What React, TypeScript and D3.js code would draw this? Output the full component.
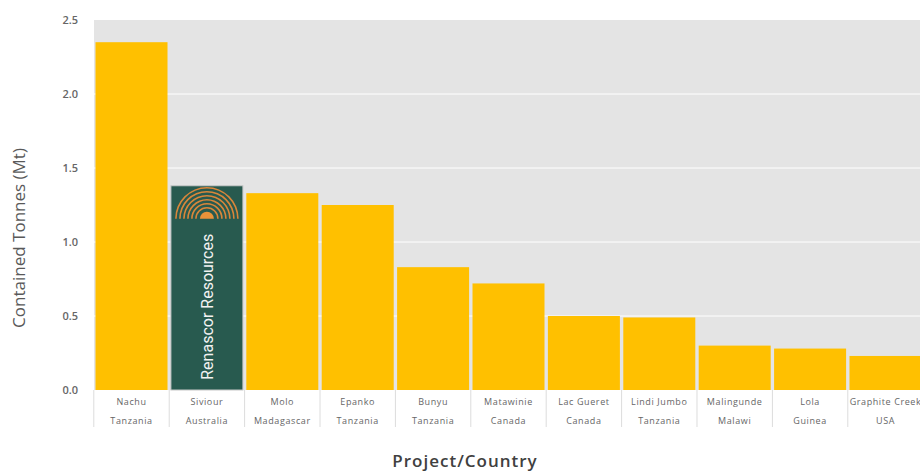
import React, { useEffect, useRef } from 'react';
import * as d3 from 'd3';

const projects = ['Nachu', 'Siviour', 'Molo', 'Epanko', 'Bunyu', 'Matawinie', 'Lac Gueret', 'Lindi Jumbo', 'Malingunde', 'Lola', 'Graphite Creek'];
const countries = ['Tanzania', 'Australia', 'Madagascar', 'Tanzania', 'Tanzania', 'Canada', 'Canada', 'Tanzania', 'Malawi', 'Guinea', 'USA'];
const tonnes = [2.35, 1.38, 1.33, 1.25, 0.83, 0.72, 0.5, 0.49, 0.3, 0.28, 0.23];
const yTicks = [0, 0.5, 1.0, 1.5, 2.0, 2.5];
const highlight = 'Siviour';

const App: React.FC = () => {
  const svgRef = useRef<SVGSVGElement>(null);

  useEffect(() => {
    if (!svgRef.current) return;
    const svg = d3.select(svgRef.current);
    svg.selectAll('*').remove();

    const width = 920;
    const height = 472;
    const margin = { top: 20, right: -3, bottom: 82, left: 94 };
    const innerW = width - margin.left - margin.right;
    const innerH = height - margin.top - margin.bottom;

    const x = d3.scaleBand<string>()
      .domain(projects)
      .range([0, innerW])
      .paddingInner(0.045)
      .paddingOuter(0.02);

    const y = d3.scaleLinear().domain([0, 2.5]).range([innerH, 0]);

    const g = svg.append('g').attr('transform', `translate(${margin.left},${margin.top})`);

    // plot background
    g.append('rect')
      .attr('width', innerW)
      .attr('height', innerH)
      .attr('fill', '#e4e4e4');

    // gridlines
    g.selectAll('.grid')
      .data(yTicks.slice(1, -1))
      .enter()
      .append('line')
      .attr('x1', 0)
      .attr('x2', innerW)
      .attr('y1', d => y(d))
      .attr('y2', d => y(d))
      .attr('stroke', '#ffffff')
      .attr('stroke-width', 1);

    // y tick labels
    g.selectAll('.ytick')
      .data(yTicks)
      .enter()
      .append('text')
      .attr('x', -16)
      .attr('y', d => y(d))
      .attr('dy', '0.35em')
      .attr('text-anchor', 'end')
      .style('font-family', 'Open Sans, sans-serif')
      .style('font-size', '11px')
      .style('font-weight', 600)
      .style('fill', '#666666')
      .text(d => d.toFixed(1));

    // bars
    g.selectAll('.bar')
      .data(projects)
      .enter()
      .append('rect')
      .attr('x', d => x(d)!)
      .attr('y', (d, i) => y(tonnes[i]))
      .attr('width', x.bandwidth())
      .attr('height', (d, i) => innerH - y(tonnes[i]))
      .attr('fill', d => d === highlight ? '#285a4f' : '#ffc000')
      .attr('stroke', d => d === highlight ? '#c8c8c8' : 'none')
      .attr('stroke-width', 1);

    // Renascor logo on highlighted bar
    const hi = projects.indexOf(highlight);
    const cx = x(highlight)! + x.bandwidth() / 2;
    const logoBase = y(tonnes[hi]) + 33;
    const arc = d3.arc<number>()
      .innerRadius(d => d - 0.8)
      .outerRadius(d => d + 0.8)
      .startAngle(-Math.PI / 2)
      .endAngle(Math.PI / 2);
    const logo = g.append('g').attr('transform', `translate(${cx},${logoBase})`);
    logo.selectAll('path.ring')
      .data([11, 15, 19, 23, 27, 31])
      .enter()
      .append('path')
      .attr('d', d => arc(d))
      .attr('fill', '#d9863a');
    logo.append('path')
      .attr('d', d3.arc()({ innerRadius: 0, outerRadius: 7, startAngle: -Math.PI / 2, endAngle: Math.PI / 2 }) as string)
      .attr('fill', '#e8923a');

    g.append('text')
      .attr('transform', `translate(${cx + 6},${y(tonnes[hi]) + 121}) rotate(-90)`)
      .attr('text-anchor', 'middle')
      .style('font-family', 'Liberation Sans Narrow, Roboto, sans-serif')
      .style('font-size', '16px')
      .style('fill', '#f2f2f2')
      .text('Renascor Resources');

    // category label area separators
    const boundaries = projects.map(p => x(p)! - (x.step() - x.bandwidth()) / 2);
    g.selectAll('.sep')
      .data(boundaries)
      .enter()
      .append('line')
      .attr('x1', d => d)
      .attr('x2', d => d)
      .attr('y1', innerH)
      .attr('y2', innerH + 37)
      .attr('stroke', '#dcdcdc')
      .attr('stroke-width', 1);

    const labelStyle = (sel: d3.Selection<SVGTextElement, string, SVGGElement, unknown>) =>
      sel.attr('text-anchor', 'middle')
        .style('font-family', 'Open Sans, sans-serif')
        .style('font-size', '9px')
        .style('letter-spacing', '0.6px')
        .style('fill', '#666666');

    g.selectAll('.proj')
      .data(projects)
      .enter()
      .append('text')
      .attr('x', d => x(d)! + x.bandwidth() / 2)
      .attr('y', innerH + 15)
      .call(labelStyle)
      .text(d => d);

    g.selectAll('.country')
      .data(countries)
      .enter()
      .append('text')
      .attr('x', (d, i) => x(projects[i])! + x.bandwidth() / 2)
      .attr('y', innerH + 34)
      .call(labelStyle)
      .text(d => d);

    // axis titles
    svg.append('text')
      .attr('transform', `translate(25,238) rotate(-90)`)
      .attr('text-anchor', 'middle')
      .style('font-family', 'Open Sans, sans-serif')
      .style('font-size', '17px')
      .style('fill', '#595959')
      .text('Contained Tonnes (Mt)');

    svg.append('text')
      .attr('x', 465)
      .attr('y', 467)
      .attr('text-anchor', 'middle')
      .style('font-family', 'Open Sans, sans-serif')
      .style('font-size', '17px')
      .style('font-weight', 600)
      .style('letter-spacing', '1px')
      .style('fill', '#404040')
      .text('Project/Country');
  }, []);

  return (
    <svg ref={svgRef} width={920} height={472} style={{ position: 'absolute', left: 0, top: 0, background: '#ffffff' }} />
  );
};

export default App;
